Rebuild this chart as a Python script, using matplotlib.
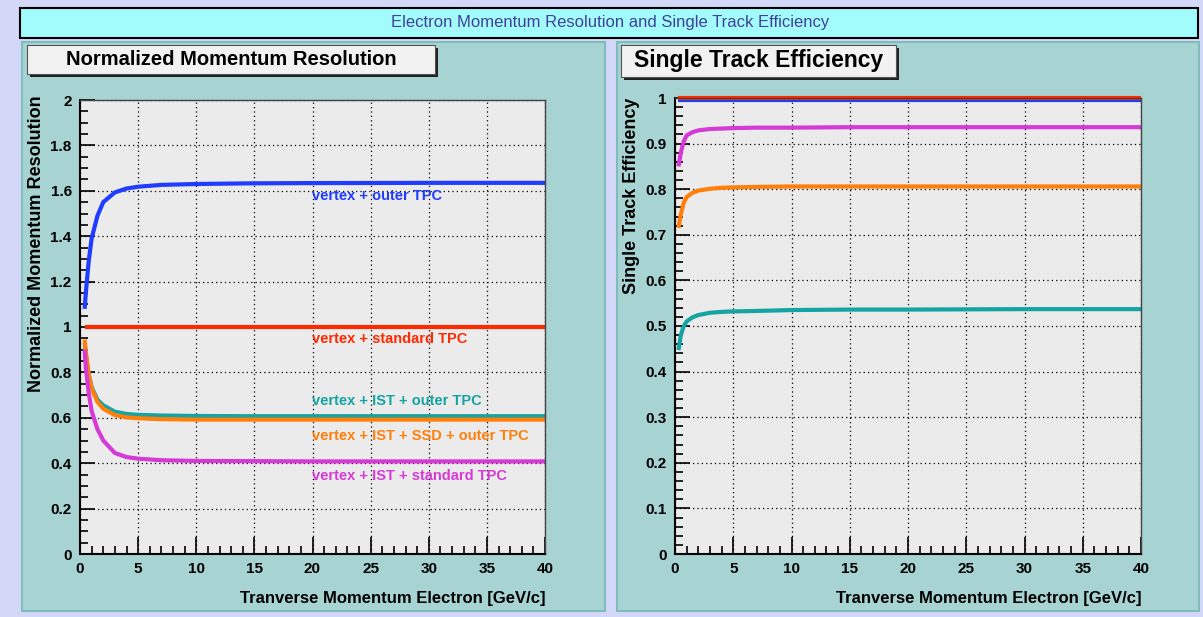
import matplotlib
matplotlib.use("Agg")
import matplotlib.pyplot as plt
from matplotlib.patches import Rectangle
from matplotlib.ticker import MultipleLocator

plt.rcParams['font.family'] = ['Liberation Sans', 'DejaVu Sans']

W, H = 1203, 617

# --- data ---
pt = [0.4, 0.5, 0.75, 1.0, 1.5, 2.0, 3.0, 4.0, 5.0, 7.0, 10.0, 15.0, 20.0, 30.0, 40.0]

res_labels = ["vertex + outer TPC", "vertex + standard TPC", "vertex + IST + outer TPC",
              "vertex + IST + SSD + outer TPC", "vertex + IST + standard TPC"]
res_outer = [1.08, 1.15, 1.29, 1.39, 1.49, 1.55, 1.593, 1.61, 1.618, 1.626, 1.63, 1.633, 1.634, 1.635, 1.635]
res_std = [1.0] * len(pt)
res_ist_outer = [0.93, 0.88, 0.79, 0.735, 0.68, 0.655, 0.627, 0.617, 0.613, 0.61, 0.608, 0.607, 0.607, 0.607, 0.607]
res_ist_ssd = [0.945, 0.89, 0.79, 0.73, 0.67, 0.64, 0.612, 0.602, 0.598, 0.594, 0.592, 0.592, 0.592, 0.592, 0.592]
res_ist_std = [0.90, 0.82, 0.71, 0.63, 0.55, 0.50, 0.445, 0.427, 0.42, 0.413, 0.41, 0.409, 0.408, 0.408, 0.408]
res_label_y = [1.575, 0.947, 0.672, 0.52, 0.345]

pt_eff = [0.3, 0.5, 0.75, 1.0, 1.5, 2.0, 3.0, 4.0, 5.0, 7.0, 10.0, 15.0, 20.0, 30.0, 40.0]
eff_std = [1.0] * len(pt_eff)
eff_outer = [0.995] * len(pt_eff)
eff_ist_std = [0.85, 0.88, 0.905, 0.918, 0.925, 0.929, 0.932, 0.933, 0.934, 0.935, 0.935, 0.936, 0.936, 0.936, 0.936]
eff_ist_ssd = [0.715, 0.745, 0.77, 0.783, 0.792, 0.797, 0.801, 0.803, 0.804, 0.805, 0.806, 0.806, 0.806, 0.806, 0.806]
eff_ist_outer = [0.447, 0.48, 0.50, 0.51, 0.519, 0.524, 0.529, 0.531, 0.532, 0.533, 0.535, 0.536, 0.536, 0.537, 0.537]

c_blue, c_red, c_teal, c_orange, c_mag = "#1f3cff", "#ff2a00", "#14a4a4", "#ff7f0a", "#d63ad6"


def frect(x0, y0, x1, y1):
    # pixel box (top-left origin) -> figure fraction rect
    return [x0 / W, 1 - y1 / H, (x1 - x0) / W, (y1 - y0) / H]


def box(fig, x0, y0, x1, y1, z=-5, **kw):
    l, b, w, h = frect(x0, y0, x1, y1)
    fig.add_artist(Rectangle((l, b), w, h, transform=fig.transFigure, zorder=z, **kw))


fig = plt.figure(figsize=(W / 100, H / 100), dpi=100, facecolor="#d4d8f8")

# banner
box(fig, 20, 8, 1198, 38, facecolor="#a2fcfc", edgecolor="black", lw=1.5)
fig.text(610 / W, 1 - 22 / H, "Electron Momentum Resolution and Single Track Efficiency",
         ha="center", va="center", fontsize=12, color="#40409a")

# panels
for x0, x1 in [(22, 605), (617, 1199)]:
    box(fig, x0, 42, x1, 611, facecolor="#a8d3d3", edgecolor="#7fbcbc", lw=1.5)

# subtitle boxes with shadow
for (x0, y0, x1, y1, txt, fs) in [(27, 45, 435, 74, "Normalized Momentum Resolution", 14.5),
                                   (621, 45, 896, 77, "Single Track Efficiency", 16.5)]:
    box(fig, x0 + 3, y0 + 3, x1 + 3, y1 + 3, z=-4, facecolor="#222222", edgecolor="none")
    box(fig, x0, y0, x1, y1, z=-3, facecolor="#f2f2f2", edgecolor="#555555", lw=0.8)
    fig.text((x0 + x1) / 2 / W, 1 - (y0 + y1) / 2 / H, txt, ha="center", va="center",
             fontsize=fs, fontweight="bold")


def fmt(v, pos):
    return f"{v:g}"


def style(ax, ymaj, ymin):
    ax.set_facecolor("#ebebeb")
    ax.set_xlim(0, 40)
    ax.xaxis.set_major_locator(MultipleLocator(5))
    ax.xaxis.set_minor_locator(MultipleLocator(1))
    ax.yaxis.set_major_locator(MultipleLocator(ymaj))
    ax.yaxis.set_minor_locator(MultipleLocator(ymin))
    ax.xaxis.set_major_formatter(fmt)
    ax.yaxis.set_major_formatter(fmt)
    ax.tick_params(which="both", direction="in", top=False, right=False, colors="black",
                   labelsize=11)
    ax.tick_params(axis="y", which="major", length=11, width=1.2, pad=6)
    ax.tick_params(axis="y", which="minor", length=6, width=1.2)
    ax.tick_params(axis="x", which="major", length=12, width=1.2, pad=6)
    ax.tick_params(axis="x", which="minor", length=6, width=1.2)
    ax.grid(True, which="major", color="black", linestyle=(0, (1, 2.5)), linewidth=0.9)
    for s in ["left", "bottom"]:
        ax.spines[s].set_linewidth(1.5)
    for s in ["top", "right"]:
        ax.spines[s].set_linewidth(1.0)
        ax.spines[s].set_color("#444444")
    ax.set_axisbelow(True)


def bold_ticks(ax):
    for lab in ax.get_xticklabels() + ax.get_yticklabels():
        lab.set_fontweight("bold")


# left: resolution
ax1 = fig.add_axes(frect(80, 100, 545, 554))
style(ax1, 0.2, 0.05)
ax1.set_ylim(0, 2)
for y, c in [(res_outer, c_blue), (res_std, c_red), (res_ist_outer, c_teal),
             (res_ist_ssd, c_orange), (res_ist_std, c_mag)]:
    ax1.plot(pt, y, color=c, lw=3, solid_capstyle="butt")
for txt, yy, c in zip(res_labels, res_label_y, [c_blue, c_red, c_teal, c_orange, c_mag]):
    ax1.text(20, yy, txt, color=c, fontsize=10.5, fontweight="bold", ha="left", va="center")
bold_ticks(ax1)
fig.text(37 / W, 1 - 95 / H, "Normalized Momentum Resolution", rotation=90, ha="center",
         va="top", fontsize=13, fontweight="bold")
fig.text(545 / W, 1 - 599 / H, "Tranverse Momentum Electron [GeV/c]", ha="right",
         va="center", fontsize=12, fontweight="bold")

# right: efficiency
ax2 = fig.add_axes(frect(675, 98, 1141, 554))
style(ax2, 0.1, 0.02)
ax2.set_ylim(0, 1)
for y, c in [(eff_ist_outer, c_teal), (eff_ist_ssd, c_orange), (eff_ist_std, c_mag),
             (eff_outer, c_blue), (eff_std, c_red)]:
    ax2.plot(pt_eff, y, color=c, lw=3, solid_capstyle="butt", clip_on=False)
bold_ticks(ax2)
fig.text(632 / W, 1 - 98 / H, "Single Track Efficiency", rotation=90, ha="center",
         va="top", fontsize=13, fontweight="bold")
fig.text(1141 / W, 1 - 599 / H, "Tranverse Momentum Electron [GeV/c]", ha="right",
         va="center", fontsize=12, fontweight="bold")

fig.savefig("out.png", dpi=100, facecolor=fig.get_facecolor())
